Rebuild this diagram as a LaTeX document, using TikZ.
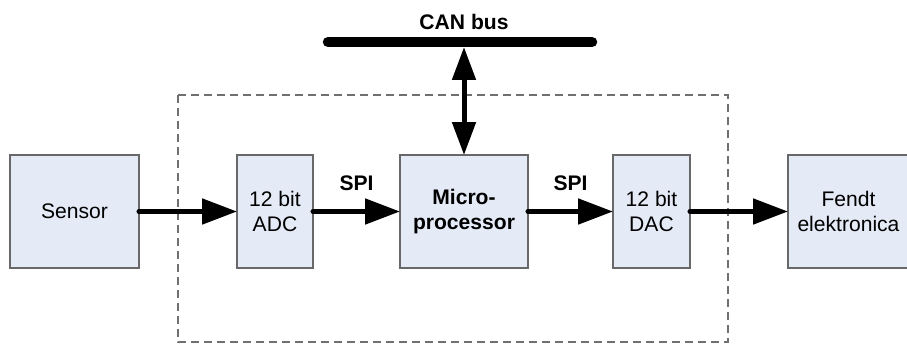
\documentclass[tikz,border=0pt]{standalone}
\usepackage{fontspec}
\setmainfont{Liberation Sans}
\usetikzlibrary{arrows.meta}

\definecolor{boxfill}{HTML}{E4EAF6}
\definecolor{boxline}{HTML}{686868}
\definecolor{frameline}{HTML}{707070}

\begin{document}
\begin{tikzpicture}[x=0.02cm,y=-0.02cm,
  blok/.style={draw=boxline,fill=boxfill,line width=0.8pt,minimum height=2.26cm,
    inner sep=0pt,outer sep=0pt,align=center,font=\fontsize{12}{14}\selectfont},
  pijl/.style={line width=0.1cm,line cap=round,-{Triangle[length=0.7cm,width=0.5cm]}},
  label/.style={font=\fontsize{12}{14}\selectfont\bfseries}]
\useasboundingbox (0,0) rectangle (907,345);
% module outline
\draw[frameline,line width=0.8pt,dash pattern=on 0.16cm off 0.1cm] (178,95) rectangle (728,342);
% blocks
\node[blok,minimum width=2.58cm] (sensor) at (74.5,211.5) {Sensor};
\node[blok,minimum width=1.52cm] (adc) at (275,211.5) {12 bit\\ADC};
\node[blok,minimum width=2.56cm,font=\fontsize{12}{14}\selectfont\bfseries] (mcu) at (464,211.5) {Micro-\\processor};
\node[blok,minimum width=1.54cm] (dac) at (651.5,211.5) {12 bit\\DAC};
\node[blok,minimum width=2.42cm] (fendt) at (848.5,211.5) {Fendt\\elektronica};
% CAN bus
\coordinate (bus-l) at (328,42);
\coordinate (bus-r) at (592,42);
\coordinate (bus-tap) at (464,47);
\draw[line width=0.21cm,line cap=round] (bus-l) -- (bus-r);
\node[label] (can) at (464,22) {CAN bus};
\draw[line width=0.1cm,{Triangle[length=0.66cm,width=0.46cm]}-{Triangle[length=0.66cm,width=0.46cm]}] (bus-tap) -- (mcu.north);
% signal path
\draw[pijl] (sensor.east) -- (adc.west);
\draw[pijl] (adc.east) -- node[label,midway,yshift=0.56cm] (spi-in) {SPI} (mcu.west);
\draw[pijl] (mcu.east) -- node[label,midway,yshift=0.56cm] (spi-out) {SPI} (dac.west);
\draw[pijl] (dac.east) -- (fendt.west);
\end{tikzpicture}
\end{document}
